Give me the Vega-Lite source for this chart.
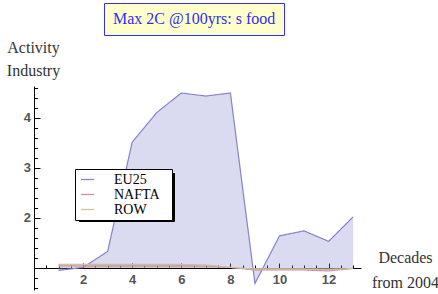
{
  "$schema": "https://vega.github.io/schema/vega-lite/v6.json",
  "width": 327,
  "height": 204,
  "autosize": {"type": "none"},
  "padding": {"left": 34, "top": 86, "right": 77, "bottom": 4},
  "background": "white",
  "config": {"view": {"stroke": null}},
  "data": {
    "values": [
      {"decade": 1, "region": "EU25", "value": 0.95},
      {"decade": 2, "region": "EU25", "value": 1.01},
      {"decade": 3, "region": "EU25", "value": 1.33},
      {"decade": 4, "region": "EU25", "value": 3.51},
      {"decade": 5, "region": "EU25", "value": 4.1},
      {"decade": 6, "region": "EU25", "value": 4.49},
      {"decade": 7, "region": "EU25", "value": 4.43},
      {"decade": 8, "region": "EU25", "value": 4.49},
      {"decade": 9, "region": "EU25", "value": 0.69},
      {"decade": 10, "region": "EU25", "value": 1.64},
      {"decade": 11, "region": "EU25", "value": 1.74},
      {"decade": 12, "region": "EU25", "value": 1.53},
      {"decade": 13, "region": "EU25", "value": 2.02},
      {"decade": 1, "region": "NAFTA", "value": 1.04},
      {"decade": 2, "region": "NAFTA", "value": 1.04},
      {"decade": 3, "region": "NAFTA", "value": 1.04},
      {"decade": 4, "region": "NAFTA", "value": 1.04},
      {"decade": 5, "region": "NAFTA", "value": 1.04},
      {"decade": 6, "region": "NAFTA", "value": 1.04},
      {"decade": 7, "region": "NAFTA", "value": 1.04},
      {"decade": 8, "region": "NAFTA", "value": 1.01},
      {"decade": 9, "region": "NAFTA", "value": 0.96},
      {"decade": 10, "region": "NAFTA", "value": 0.96},
      {"decade": 11, "region": "NAFTA", "value": 0.96},
      {"decade": 12, "region": "NAFTA", "value": 0.94},
      {"decade": 13, "region": "NAFTA", "value": 0.99},
      {"decade": 1, "region": "ROW", "value": 1.07},
      {"decade": 2, "region": "ROW", "value": 1.07},
      {"decade": 3, "region": "ROW", "value": 1.07},
      {"decade": 4, "region": "ROW", "value": 1.07},
      {"decade": 5, "region": "ROW", "value": 1.07},
      {"decade": 6, "region": "ROW", "value": 1.07},
      {"decade": 7, "region": "ROW", "value": 1.06},
      {"decade": 8, "region": "ROW", "value": 1.01},
      {"decade": 9, "region": "ROW", "value": 0.98},
      {"decade": 10, "region": "ROW", "value": 0.98},
      {"decade": 11, "region": "ROW", "value": 0.98},
      {"decade": 12, "region": "ROW", "value": 0.97},
      {"decade": 13, "region": "ROW", "value": 0.99}
    ]
  },
  "encoding": {
    "x": {
      "field": "decade",
      "type": "quantitative",
      "scale": {"domain": [0, 13.32], "nice": false, "zero": false},
      "axis": {
        "orient": "bottom",
        "offset": -22,
        "values": [0.5, 1, 1.5, 2, 2.5, 3, 3.5, 4, 4.5, 5, 5.5, 6, 6.5, 7, 7.5, 8, 8.5, 9, 9.5, 10, 10.5, 11, 11.5, 12, 12.5, 13],
        "labelExpr": "datum.value % 2 == 0 ? '' + datum.value : ''",
        "tickSize": {"condition": {"test": "datum.value % 2 == 0", "value": -5}, "value": -3},
        "tickColor": "black",
        "domainColor": "black",
        "grid": false,
        "labelFont": "Liberation Sans",
        "labelFontWeight": "bold",
        "labelFontSize": 13,
        "labelColor": "#555555",
        "labelPadding": 10,
        "labelFlush": false,
        "labelOverlap": false,
        "title": ["Decades", "from 2004"],
        "titleFont": "Liberation Serif",
        "titleFontSize": 16,
        "titleFontWeight": "normal",
        "titleColor": "#333333",
        "titleAlign": "center",
        "titleBaseline": "alphabetic",
        "titleLineHeight": 25,
        "titleX": 371,
        "titleY": -6,
        "titleAngle": 0
      }
    },
    "y": {
      "field": "value",
      "type": "quantitative",
      "scale": {"domain": [0.56, 4.63], "nice": false, "zero": false},
      "axis": {
        "orient": "left",
        "values": [0.6, 0.8, 1.2, 1.4, 1.6, 1.8, 2, 2.2, 2.4, 2.6, 2.8, 3, 3.2, 3.4, 3.6, 3.8, 4, 4.2, 4.4, 4.6],
        "labelExpr": "datum.value == 2 || datum.value == 3 || datum.value == 4 ? '' + datum.value : ''",
        "tickSize": {"condition": {"test": "datum.value == 2 || datum.value == 3 || datum.value == 4", "value": -6}, "value": -3.5},
        "tickColor": "black",
        "domainColor": "black",
        "grid": false,
        "labelFont": "Liberation Sans",
        "labelFontWeight": "bold",
        "labelFontSize": 13,
        "labelColor": "#555555",
        "labelPadding": 9.5,
        "labelFlush": false,
        "labelOverlap": false,
        "title": ["Activity", "Industry"],
        "titleFont": "Liberation Serif",
        "titleFontSize": 16,
        "titleFontWeight": "normal",
        "titleColor": "#333333",
        "titleAngle": 0,
        "titleAlign": "center",
        "titleBaseline": "alphabetic",
        "titleLineHeight": 23,
        "titleX": -1,
        "titleY": -34
      }
    },
    "color": {
      "field": "region",
      "type": "nominal",
      "scale": {"domain": ["EU25", "NAFTA", "ROW"], "range": ["#8484cc", "#cc8cb0", "#ccc494"]},
      "legend": {
        "orient": "none",
        "legendX": 41,
        "legendY": 83,
        "title": "..",
        "titleOrient": "right",
        "titleColor": "white",
        "titleFontSize": 10,
        "titlePadding": 3,
        "zindex": 2,
        "fillColor": "white",
        "strokeColor": "black",
        "padding": 3,
        "rowPadding": 0,
        "symbolType": "stroke",
        "symbolSize": 169,
        "symbolStrokeWidth": 1.3,
        "symbolOffset": 2,
        "labelOffset": 19,
        "labelLimit": 200,
        "labelFont": "Liberation Serif",
        "labelFontSize": 14,
        "labelColor": "black"
      }
    }
  },
  "layer": [
    {
      "mark": {"type": "area", "fillOpacity": 0.3},
      "encoding": {
        "y2": {"datum": 1},
        "opacity": {
          "datum": 1,
          "type": "quantitative",
          "scale": {"domain": [0, 1], "range": [0, 1]},
          "legend": {
            "orient": "none",
            "legendX": 45,
            "legendY": 87,
            "title": null,
            "values": [1],
            "zindex": 1,
            "fillColor": "black",
            "strokeColor": "black",
            "padding": 3,
            "symbolType": "square",
            "symbolSize": 1764,
            "symbolOpacity": 0,
            "symbolStrokeWidth": 0,
            "labelOffset": 47,
            "labelExpr": "''"
          }
        }
      }
    },
    {
      "mark": {"type": "line", "strokeWidth": 1.2},
      "encoding": {
        "strokeDash": {
          "datum": "Max 2C @100yrs: s food",
          "type": "nominal",
          "scale": {"range": [[1, 0]]},
          "legend": {
            "orient": "none",
            "legendX": 70,
            "legendY": -83,
            "title": null,
            "zindex": 3,
            "fillColor": "#ffffcc",
            "strokeColor": "#2f2fff",
            "padding": 8,
            "symbolSize": 1,
            "symbolOpacity": 0,
            "symbolStrokeWidth": 0,
            "labelOffset": -15,
            "labelLimit": 400,
            "labelFont": "Liberation Serif",
            "labelFontSize": 16,
            "labelColor": "#2f2fee"
          }
        }
      }
    }
  ]
}
